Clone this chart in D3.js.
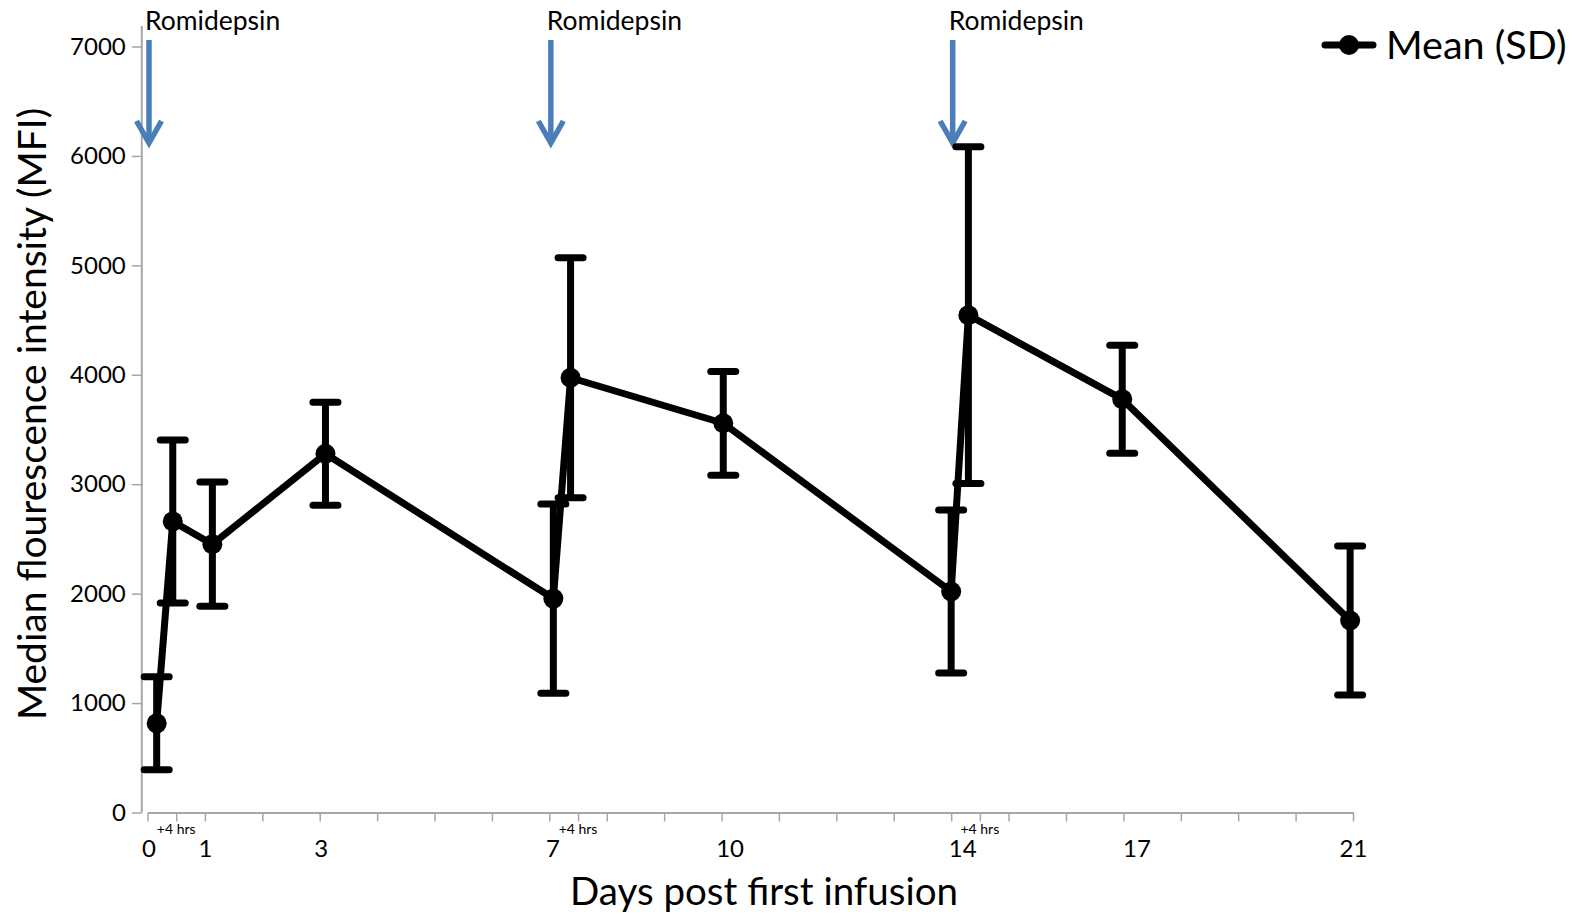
<!DOCTYPE html>
<html><head><meta charset="utf-8">
<script src="https://cdn.jsdelivr.net/npm/d3@7"></script>
<style>
html,body{margin:0;padding:0;background:#fff;}
svg{display:block;font-family:Lato, "Open Sans", sans-serif;}
</style></head>
<body>
<svg id="chart" width="1577" height="914"></svg>
<script>
// ---- data ----
const timepoints = ["Day 0","Day 0 +4 hrs","Day 1","Day 3","Day 7","Day 7 +4 hrs","Day 10","Day 14","Day 14 +4 hrs","Day 17","Day 21"];
const dayPosition = [0.16, 0.44, 1.13, 3.1, 7.07, 7.37, 10.03, 14.0, 14.3, 16.98, 20.95];
const meanMFI = [815, 2660, 2452, 3278, 1955, 3973, 3557, 2020, 4545, 3777, 1755];
const sdMFI   = [425, 745, 568, 470, 865, 1097, 474, 745, 1538, 493, 681];
const yTicks = [0, 1000, 2000, 3000, 4000, 5000, 6000, 7000];
const xTickDays = [0,1,2,3,4,5,6,7,8,9,10,11,12,13,14,15,16,17,18,19,20,21];
const xLabelDays = [0, 1, 3, 7, 10, 14, 17, 21];
const plusFourTicks = [0.5, 7.5, 14.5];
const plusFourLabel = "+4 hrs";
const doseDays = [0, 7, 14];
const doseLabel = "Romidepsin";
const legendLabel = "Mean (SD)";
const xTitle = "Days post first infusion";
const yTitle = "Median flourescence intensity (MFI)";

// ---- layout ----
const svg = d3.select("#chart");
const x = d3.scaleLinear().domain([0, 21]).range([147.5, 1353]);
const y = d3.scaleLinear().domain([0, 7000]).range([812.5, 46.5]);
const axisColor = "#a6a6a6";
const blue = "#4a7ebb";
// the original's day labels sit slightly right of their ticks
const labelNudge = {0:1, 1:0, 3:1, 7:3, 10:8, 14:11, 17:13, 21:0};

// y axis
const yAxisX = 141.8;
const yAxis = svg.append("g").attr("transform", `translate(${yAxisX},0)`)
  .call(d3.axisLeft(y).tickValues(yTicks).tickSize(10).tickPadding(6).tickFormat(d3.format("d")));
yAxis.select(".domain").remove();
yAxis.append("line").attr("x1",0).attr("x2",0).attr("y1",26).attr("y2",y(0))
  .attr("stroke",axisColor).attr("stroke-width",2);
yAxis.selectAll(".tick line").attr("stroke",axisColor).attr("stroke-width",1.5);
yAxis.selectAll(".tick text").attr("font-size",24).attr("fill","#000").attr("font-family","Lato");

// x axis
const xAxis = svg.append("g").attr("transform", `translate(0,${y(0)})`)
  .call(d3.axisBottom(x).tickValues(xTickDays.concat(plusFourTicks)).tickSize(9).tickSizeOuter(0)
    .tickFormat(d => xLabelDays.includes(d) ? String(d) : ""));
xAxis.select(".domain").attr("stroke",axisColor).attr("stroke-width",2);
xAxis.selectAll(".tick line").attr("stroke",axisColor).attr("stroke-width",1.5);
xAxis.selectAll(".tick text").attr("font-size",24).attr("fill","#000").attr("font-family","Lato")
  .attr("y", 27).attr("x", d => labelNudge[d] || 0);

// +4 hrs labels
svg.append("g").selectAll("text").data(plusFourTicks).join("text")
  .attr("x", d => x(d)).attr("y", y(0) + 21)
  .attr("text-anchor","middle").attr("font-size",14).attr("fill","#000")
  .text(plusFourLabel);

// axis titles
svg.append("text").attr("x", 764).attr("y", 905).attr("text-anchor","middle")
  .attr("font-size",38.5).attr("fill","#000").text(xTitle);
svg.append("text").attr("transform","translate(46,414) rotate(-90)").attr("text-anchor","middle")
  .attr("font-size",39).attr("fill","#000").text(yTitle);

// Romidepsin arrows
const arrows = svg.append("g").selectAll("g").data(doseDays).join("g")
  .attr("transform", d => `translate(${x(d) + 1.5},0)`);
arrows.append("line").attr("x1",0).attr("x2",0).attr("y1",40).attr("y2",142)
  .attr("stroke",blue).attr("stroke-width",5.5);
arrows.append("path").attr("d","M-12.5,121 L0,143 L12.5,121")
  .attr("fill","none").attr("stroke",blue).attr("stroke-width",5.5).attr("stroke-linejoin","miter");
arrows.append("text").attr("x",-4).attr("y",30).attr("font-size",26.5).attr("fill","#000")
  .text(doseLabel);

// data
const data = timepoints.map((t,i) => ({t, day: dayPosition[i], m: meanMFI[i], sd: sdMFI[i]}));
const g = svg.append("g");
const capW = 12.5;
const eb = g.selectAll("g.eb").data(data).join("g").attr("class","eb");
eb.append("line").attr("x1",d=>x(d.day)).attr("x2",d=>x(d.day))
  .attr("y1",d=>y(d.m+d.sd)).attr("y2",d=>y(d.m-d.sd))
  .attr("stroke","#000").attr("stroke-width",7);
eb.append("line").attr("x1",d=>x(d.day)-capW).attr("x2",d=>x(d.day)+capW)
  .attr("y1",d=>y(d.m+d.sd)).attr("y2",d=>y(d.m+d.sd))
  .attr("stroke","#000").attr("stroke-width",7).attr("stroke-linecap","round");
eb.append("line").attr("x1",d=>x(d.day)-capW).attr("x2",d=>x(d.day)+capW)
  .attr("y1",d=>y(d.m-d.sd)).attr("y2",d=>y(d.m-d.sd))
  .attr("stroke","#000").attr("stroke-width",7).attr("stroke-linecap","round");

g.append("path").datum(data)
  .attr("d", d3.line().x(d=>x(d.day)).y(d=>y(d.m)))
  .attr("fill","none").attr("stroke","#000").attr("stroke-width",7).attr("stroke-linejoin","round");
g.selectAll("circle").data(data).join("circle")
  .attr("cx",d=>x(d.day)).attr("cy",d=>y(d.m)).attr("r",10).attr("fill","#000");

// legend
const leg = svg.append("g").attr("transform","translate(1349,45)");
leg.append("line").attr("x1",-24).attr("x2",24).attr("y1",0).attr("y2",0)
  .attr("stroke","#000").attr("stroke-width",7).attr("stroke-linecap","round");
leg.append("circle").attr("r",10).attr("fill","#000");
leg.append("text").attr("x",37).attr("y",14).attr("font-size",39.5).attr("fill","#000").text(legendLabel);
</script>
</body></html>
